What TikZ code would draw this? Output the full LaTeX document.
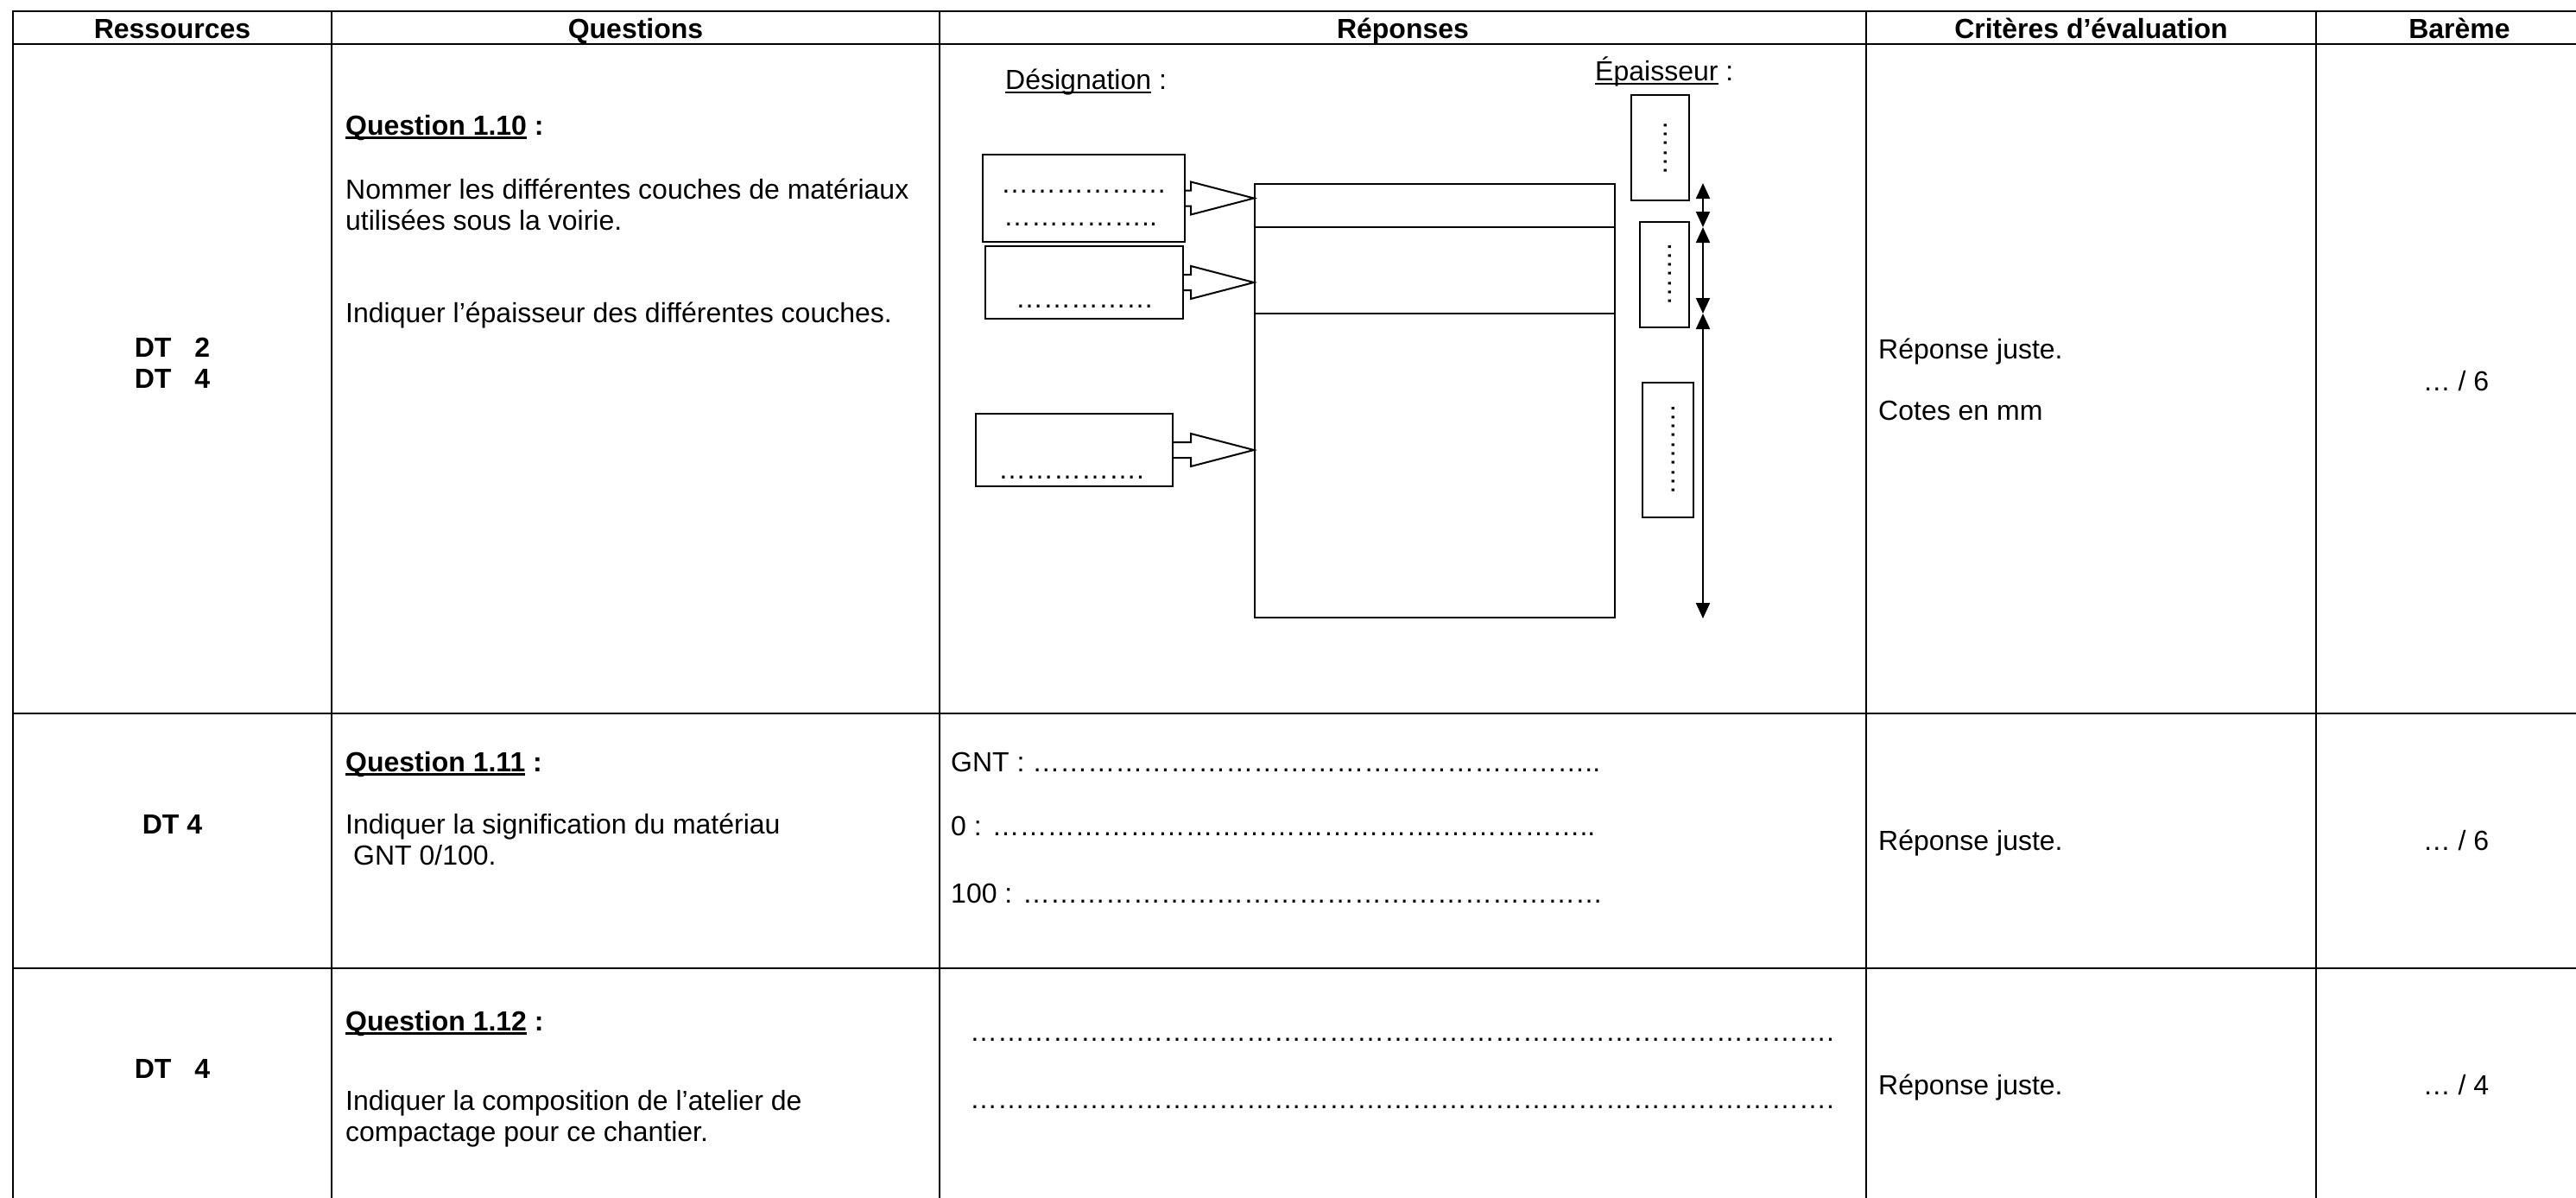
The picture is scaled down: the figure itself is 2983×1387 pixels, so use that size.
\documentclass[tikz,border=0pt]{standalone}
\usepackage{fontspec}
\setmainfont{Liberation Sans}
\usetikzlibrary{arrows.meta,calc}
\newcommand\ellrep[1]{\foreach\k in {1,...,#1}{…}}
\newcommand\myul[2]{\setbox0\hbox{#2}\rlap{\rule[-4.5pt]{\wd0}{#1}}\box0\relax}
\begin{document}
\begin{tikzpicture}[x=1pt,y=-1pt,
  grid/.style={line width=2.5pt, line cap=rect},
  tx/.style={anchor=base west, inner sep=0pt, font=\fontsize{32}{37}\selectfont},
  txb/.style={tx, font=\fontsize{32}{37}\selectfont\bfseries},
  ctr/.style={anchor=base, inner sep=0pt, font=\fontsize{32}{37}\selectfont},
  ctrb/.style={ctr, font=\fontsize{32}{37}\selectfont\bfseries},
  dbox/.style={draw, line width=2pt, rectangle, inner sep=0pt},
  vbox/.style={dbox, rotate=90, font=\fontsize{32}{37}\selectfont, text height=16pt, text depth=0pt},
  blk/.style={draw, line width=2pt, line join=miter},
  dim/.style={line width=2pt, arrows={Triangle[length=18pt,width=16pt]-Triangle[length=18pt,width=16pt]}}
]
\useasboundingbox (0,0) rectangle (2983,1387);
\clip (0,0) rectangle (2983,1387);
% table grid
\foreach \yy in {13,51,826,1121} \draw[grid] (15,\yy) -- (3030,\yy);
\foreach \xx in {15,384,1088,2161,2682} \draw[grid] (\xx,13) -- (\xx,1400);
% headers
\node[ctrb] (hR) at (199.5,44) {Ressources};
\node[ctrb] (hQ) at (736,44) {Questions};
\node[ctrb] (hP) at (1624.5,44) {Réponses};
\node[ctrb] (hC) at (2421.5,44) {Critères d’évaluation};
\node[ctrb] (hB) at (2848,44) {Barème};
% row 1
\node[ctrb] (r1a) at (199.5,413) {DT\hspace{27pt}2};
\node[ctrb] (r1b) at (199.5,449) {DT\hspace{27pt}4};
\node[txb] (q10) at (400,156) {\myul{3pt}{Question 1.10} :};
\node[tx] (q10a) at (400,230) {Nommer les différentes couches de matériaux};
\node[tx] (q10b) at (400,266) {utilisées sous la voirie.};
\node[tx] (q10c) at (400,373) {Indiquer l’épaisseur des différentes couches.};
\node[tx] (des) at (1164,103) {\myul{2pt}{Désignation} :};
\node[tx] (epa) at (1847,93) {\myul{2pt}{Épaisseur} :};
% layers
\node[dbox, minimum width=417pt, minimum height=502pt] (lay) at (1661.5,464) {};
\coordinate (l1) at (0,263);
\coordinate (l2) at (0,363);
\draw[line width=2pt] (lay.west |- l1) -- (lay.east |- l1);
\draw[line width=2pt] (lay.west |- l2) -- (lay.east |- l2);
% designation boxes
\node[dbox, minimum width=234pt, minimum height=101pt] (b1) at (1255,229.5) {};
\node[tx] (b1t1) at (1159,223) {\ellrep{6}};
\node[tx] (b1t2) at (1162,261) {\ellrep{5}..};
\node[dbox, minimum width=229pt, minimum height=84pt] (b2) at (1255.5,327) {};
\node[tx] (b2t) at (1176,356) {\ellrep{5}};
\node[dbox, minimum width=228pt, minimum height=84pt] (b3) at (1244,521) {};
\node[tx] (b3t) at (1156,554) {\ellrep{5}.};
\foreach \b in {b1,b2,b3}
  \draw[blk] ($(\b.east)+(0,-9)$) -- ($(\b.east -| lay.west)+(-73,-9)$) -- ++(0,-10)
    -- (\b.east -| lay.west) -- ++(-73,19) -- ++(0,-10) -- ($(\b.east)+(0,9)$);
% thickness boxes
\node[vbox, minimum width=122pt, minimum height=67pt] (e1) at (1922.5,171) {……};
\node[vbox, minimum width=122pt, minimum height=57pt] (e2) at (1927.5,318) {…….};
\node[vbox, minimum width=156pt, minimum height=59pt] (e3) at (1931.5,521) {……….};
% dimension arrows
\coordinate (d0) at ($(lay.north east)+(101,0)$);
\coordinate (d1) at (d0 |- l1);
\coordinate (d2) at (d0 |- l2);
\coordinate (d3) at ($(lay.south east)+(101,0)$);
\draw[dim] (d0) -- (d1);
\draw[dim] (d1) -- (d2);
\draw[dim] (d2) -- (d3);
\node[tx] (c1a) at (2175,415) {Réponse juste.};
\node[tx] (c1b) at (2175,486) {Cotes en mm};
\node[ctr] (s1) at (2844,452) {… / 6};
% row 2
\node[ctrb] (r2) at (199.5,965) {DT 4};
\node[txb] (q11) at (400,893) {\myul{3pt}{Question 1.11} :};
\node[tx] (q11a) at (400,965) {Indiquer la signification du matériau};
\node[tx] (q11b) at (409,1001) {GNT 0/100.};
\node[tx] (gnt) at (1101,893) {GNT : \ellrep{20}..};
\node[tx] (zero) at (1101,967) {0 : \ellrep{16}.\ellrep{5}..};
\node[tx] (cent) at (1101,1045) {100 : \ellrep{21}};
\node[tx] (c2) at (2175,984) {Réponse juste.};
\node[ctr] (s2) at (2844,984) {… / 6};
% row 3
\node[ctrb] (r3) at (199.5,1248) {DT\hspace{27pt}4};
\node[txb] (q12) at (400,1193) {\myul{3pt}{Question 1.12} :};
\node[tx] (q12a) at (400,1285) {Indiquer la composition de l’atelier de};
\node[tx] (q12b) at (400,1321) {compactage pour ce chantier.};
\node[tx] (l3a) at (1123,1205) {\ellrep{31}.};
\node[tx] (l3b) at (1123,1283) {\ellrep{31}.};
\node[tx] (c3) at (2175,1267) {Réponse juste.};
\node[ctr] (s3) at (2844,1267) {… / 4};
\end{tikzpicture}
\end{document}
